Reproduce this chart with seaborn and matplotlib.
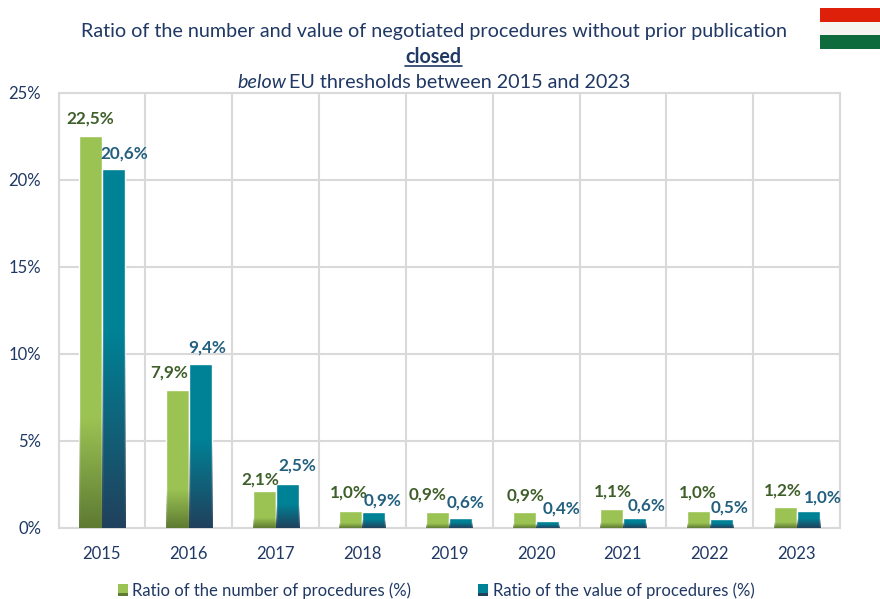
import numpy as np
import pandas as pd
import matplotlib
matplotlib.use("Agg")
import matplotlib.pyplot as plt
from matplotlib.patches import Rectangle
from matplotlib.legend_handler import HandlerBase
from matplotlib.colors import to_rgb
import seaborn as sns

years = ["2015", "2016", "2017", "2018", "2019", "2020", "2021", "2022", "2023"]
number_ratio = [22.5, 7.9, 2.1, 1.0, 0.9, 0.9, 1.1, 1.0, 1.2]
value_ratio = [20.6, 9.4, 2.5, 0.9, 0.6, 0.4, 0.6, 0.5, 1.0]
series_names = ["Ratio of the number of procedures (%)", "Ratio of the value of procedures (%)"]

# label offsets from the bar's top centre, in pixels
number_offsets = [(0, 18), (-8, 18), (-4, 12), (-2, 18), (-10, 18), (1, 17), (1, 17), (0, 18), (-2, 17)]
value_offsets = [(11, 16), (7, 17), (10, 19), (9, 12), (5, 15), (14, 13), (12, 12), (8, 12), (15, 13)]

sns.set_theme(style="white")
plt.rcParams["font.family"] = ["Lato", "DejaVu Sans"]

TEXT = "#1F3864"
GRID = "#D9D9D9"
GREEN, GREEN_DARK = "#9BC353", "#5E7A33"
TEAL, TEAL_DARK = "#008296", "#21405C"
DARK_GREEN_TXT, TEAL_TXT = "#3F5F2A", "#23607F"

W, H = 880, 599
fig = plt.figure(figsize=(W / 100, H / 100), dpi=100)
ax = fig.add_axes([58.5 / W, 1 - 528 / H, (840 - 58.5) / W, (528 - 92.5) / H])

df = pd.DataFrame({
    "year": years * 2,
    "ratio": number_ratio + value_ratio,
    "series": [series_names[0]] * len(years) + [series_names[1]] * len(years),
})
sns.barplot(data=df, x="year", y="ratio", hue="series", hue_order=series_names,
            palette=[GREEN, TEAL], width=0.53, gap=0, saturation=1, ax=ax, zorder=3, legend=False)

ax.set_xlim(-0.5, len(years) - 0.5)
ax.set_ylim(0, 25)
ax.set_yticks([0, 5, 10, 15, 20, 25])
ax.set_yticklabels(["0%", "5%", "10%", "15%", "20%", "25%"])
ax.set_xlabel("")
ax.set_ylabel("")
ax.set_xticks(np.arange(-0.5, len(years)), minor=True)
ax.grid(True, which="minor", axis="x", color=GRID, lw=1.5, zorder=0)
ax.grid(True, which="major", axis="y", color=GRID, lw=1.5, zorder=0)
ax.set_axisbelow(True)
for s in ax.spines.values():
    s.set_color(GRID)
    s.set_linewidth(1.5)
ax.tick_params(axis="both", which="both", length=0, labelcolor=TEXT, labelsize=12)
ax.tick_params(axis="x", pad=13)
ax.tick_params(axis="y", pad=12.5)


def overlay(color, frac, bar):
    r, g, b = to_rgb(color)
    n = 256
    t = np.linspace(0, 1, n)[:, None]
    alpha = np.clip(1 - t / frac, 0, 1)
    img = np.dstack([np.full((n, 1), r), np.full((n, 1), g), np.full((n, 1), b), alpha])
    x0, w, h = bar.get_x(), bar.get_width(), bar.get_height()
    return ax.imshow(img, origin="lower", aspect="auto", extent=(x0, x0 + w, 0, h), zorder=4,
                     interpolation="bilinear")


bars = list(ax.patches)
n = len(years)
for bar in bars[:n]:
    overlay(GREEN_DARK, 0.28, bar)
for bar in bars[n:2 * n]:
    overlay(TEAL_DARK, 0.55, bar)
ax.set_xlim(-0.5, len(years) - 0.5)
ax.set_ylim(0, 25)

for group, vals, offs, col in [(bars[:n], number_ratio, number_offsets, DARK_GREEN_TXT),
                               (bars[n:2 * n], value_ratio, value_offsets, TEAL_TXT)]:
    for bar, val, off in zip(group, vals, offs):
        ax.annotate(f"{val:.1f}%".replace(".", ","), (bar.get_x() + bar.get_width() / 2, val),
                    xytext=(off[0] * 0.72, off[1] * 0.72), textcoords="offset points",
                    ha="center", va="center", color=col, fontweight="bold", fontsize=12.3, zorder=6,
                    annotation_clip=False)

# title
tsize = 14.2
fig.text(433.5 / W, 1 - 31 / H, "Ratio of the number and value of negotiated procedures without prior publication",
         ha="center", va="center", color=TEXT, fontsize=tsize)
closed = fig.text(433.5 / W, 1 - 57 / H, "closed", ha="center", va="center", color=TEXT, fontsize=tsize, fontweight="bold")
fig.canvas.draw()
bb = closed.get_window_extent()
fig.add_artist(plt.Line2D([bb.x0 / W, bb.x1 / W], [1 - 66 / H, 1 - 66 / H], color=TEXT, lw=1.2))

t1 = fig.text(237 / W, 1 - 83 / H, "below", ha="left", va="center", color=TEXT, fontsize=tsize, style="italic")
bb = t1.get_window_extent()
fig.text((bb.x1 + 3) / W, 1 - 83 / H, "EU thresholds between 2015 and 2023", ha="left", va="center",
         color=TEXT, fontsize=tsize)

# flag
for (y0, y1, c) in [(8, 22, "#DE1F0A"), (22, 35, "#F7F5F2"), (35, 49, "#0E6B3C")]:
    fig.add_artist(Rectangle((820 / W, 1 - y1 / H), 60 / W, (y1 - y0) / H, transform=fig.transFigure,
                             facecolor=c, edgecolor="none"))


class GradHandle:
    def __init__(self, main, dark):
        self.main, self.dark = main, dark


class GradHandler(HandlerBase):
    def create_artists(self, legend, orig, xd, yd, width, height, fontsize, trans):
        a = Rectangle((xd, yd), width, height, facecolor=orig.main, edgecolor="none", transform=trans)
        b = Rectangle((xd, yd), width, height * 0.25, facecolor=orig.dark, edgecolor="none", transform=trans)
        return [a, b]


handles = [GradHandle(GREEN, GREEN_DARK), GradHandle(TEAL, TEAL_DARK)]
leg = fig.legend(handles, series_names, handler_map={GradHandle: GradHandler()}, ncol=2, frameon=False,
                 loc="center", bbox_to_anchor=(436 / W, 1 - 591 / H), fontsize=12, labelcolor=TEXT,
                 columnspacing=4.05, handlelength=0.6, handleheight=0.75, handletextpad=0.25)

fig.savefig("out.png", dpi=100, facecolor="white")
